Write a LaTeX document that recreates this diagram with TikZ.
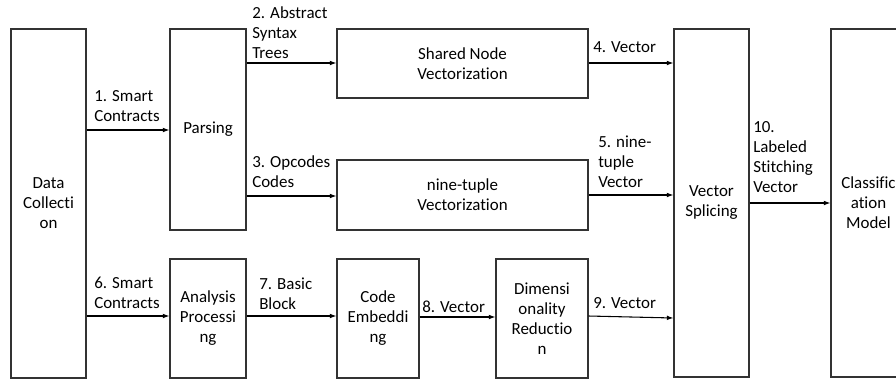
\documentclass[tikz,border=0pt]{standalone}
\usepackage{fontspec}
\setmainfont{Carlito}[Ligatures={NoCommon,NoRequired,NoContextual}]
\usetikzlibrary{arrows.meta}
\begin{document}
\begin{tikzpicture}[x=0.75pt,y=-0.75pt,
  every node/.style={font=\fontsize{12.7}{15}\selectfont},
  blk/.style={draw=black!80,line width=0.8pt,inner sep=0pt,align=center},
  lbl/.style={inner sep=0pt,align=left,anchor=south west,text depth=0pt},
  conn/.style={line width=0.8pt,-{Latex[length=5pt,width=3.6pt]}}]
\useasboundingbox (0,0) rectangle (896,379);
\fill[white] (0,0) rectangle (896,379);
\clip (0,0) rectangle (896,379);
% boxes
\node[blk,minimum width=56.25pt,minimum height=261.75pt] (dc) at (48.5,203.5) {Data\\Collecti\\on};
\node[blk,minimum width=57pt,minimum height=150.75pt] (ps) at (208,129.5) {Parsing};
\node[blk,minimum width=57pt,minimum height=89.25pt] (ap) at (208,318.5) {Analysis\\Processi\\ng};
\node[blk,minimum width=188.25pt,minimum height=51.75pt] (sn) at (462.5,63.5) {Shared Node\\Vectorization};
\node[blk,minimum width=188.25pt,minimum height=52.5pt] (nt) at (462.5,195) {nine-tuple\\Vectorization};
\node[blk,minimum width=61.5pt,minimum height=89.25pt] (ce) at (378,318.5) {Code\\Embeddi\\ng};
\node[blk,minimum width=69pt,minimum height=89.25pt] (dr) at (542,318.5) {Dimensi\\onality\\Reductio\\n};
\node[blk,minimum width=56.25pt,minimum height=261pt] (vs) at (711.5,203) {Vector\\Splicing};
\node[blk,minimum width=56.25pt,minimum height=261pt] (cm) at (868.5,203) {Classific\\ation\\Model};
% connectors
\draw[conn] (dc.east |- 0,130) -- (ps.west |- 0,130);
\draw[conn] (ps.east |- 0,63) -- (sn.west |- 0,63);
\draw[conn] (ps.east |- 0,196) -- (nt.west |- 0,196);
\draw[conn] (sn.east |- 0,63) -- (vs.west |- 0,63);
\draw[conn] (nt.east |- 0,195) -- (vs.west |- 0,195);
\draw[conn] (dc.east |- 0,316) -- (ap.west |- 0,316);
\draw[conn] (ap.east |- 0,316) -- (ce.west |- 0,316);
\draw[conn] (ce.east |- 0,317) -- (dr.west |- 0,317);
\draw[conn] (dr.east |- 0,316) -- (vs.west |- 0,318);
\draw[conn] (vs.east |- 0,203) -- (cm.west |- 0,203);
% labels
\node[lbl] (l1) at (94,122) {1. Smart\\Contracts};
\node[lbl] (l2) at (252,59) {2. Abstract\\Syntax\\Trees};
\node[lbl] (l3) at (252,188) {3. Opcodes\\Codes};
\node[lbl] (l4) at (593,53) {4. Vector};
\node[lbl] (l5) at (598,188) {5. nine-\\tuple\\Vector};
\node[lbl] (l6) at (94,309) {6. Smart\\Contracts};
\node[lbl] (l7) at (259,310) {7. Basic\\Block};
\node[lbl] (l8) at (422,313) {8. Vector};
\node[lbl] (l9) at (593,309) {9. Vector};
\node[lbl] (l10) at (753,193) {10.\\Labeled\\Stitching\\Vector};
\end{tikzpicture}
\end{document}
